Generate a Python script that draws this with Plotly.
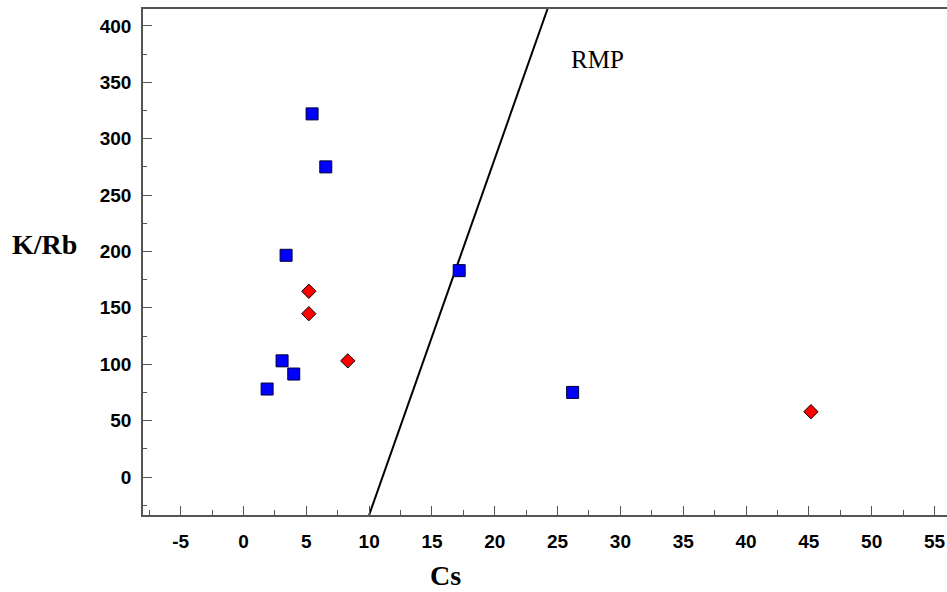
import plotly.graph_objects as go

# Data
sq_cs = [5.46, 6.55, 3.39, 17.17, 3.07, 4.0, 1.88, 26.2]
sq_krb = [322, 275, 196.6, 183, 103, 91.3, 78, 75]

dm_cs = [5.2, 5.2, 8.3, 45.17]
dm_krb = [164.7, 144.8, 103, 57.9]

rmp_cs = [10.0, 24.2]
rmp_krb = [-33.7, 415]

x_ticks = [-5, 0, 5, 10, 15, 20, 25, 30, 35, 40, 45, 50, 55]
y_ticks = [0, 50, 100, 150, 200, 250, 300, 350, 400]

fig = go.Figure()
fig.add_trace(go.Scatter(x=rmp_cs, y=rmp_krb, mode="lines",
                         line=dict(color="black", width=2), showlegend=False))
fig.add_trace(go.Scatter(x=sq_cs, y=sq_krb, mode="markers",
                         marker=dict(symbol="square", size=12, color="#0000FF",
                                     line=dict(color="#000033", width=1)),
                         showlegend=False))
fig.add_trace(go.Scatter(x=dm_cs, y=dm_krb, mode="markers",
                         marker=dict(symbol="diamond", size=11, color="#FF0000",
                                     line=dict(color="black", width=1)),
                         showlegend=False))

axfont = dict(family="Arial, Liberation Sans, sans-serif", size=19, color="black", weight="bold")

fig.update_xaxes(range=[-8, 56], tickvals=x_ticks, ticktext=[str(v) for v in x_ticks],
                 ticks="inside", ticklen=9, tickcolor="#555", tickwidth=1,
                 minor=dict(dtick=2.5, ticks="inside", ticklen=5, tickcolor="#555"),
                 showline=True, linecolor="#555", linewidth=1.5, mirror=True,
                 showgrid=False, zeroline=False, tickfont=axfont,
                 ticklabelstandoff=8)
fig.update_yaxes(range=[-33.7, 415], tickvals=y_ticks, ticktext=[str(v) for v in y_ticks],
                 ticks="inside", ticklen=9, tickcolor="#555", tickwidth=1,
                 minor=dict(dtick=25, ticks="inside", ticklen=4, tickcolor="#555"),
                 showline=True, linecolor="#555", linewidth=1.5,
                 showgrid=False, zeroline=False, tickfont=axfont,
                 ticklabelstandoff=6)

tfont = dict(family="Liberation Serif, Times New Roman, serif", size=28, color="black")
fig.add_annotation(text="<b>K/Rb</b>", xref="paper", yref="paper",
                   x=-0.123, y=0.534, showarrow=False, font=tfont, xanchor="center", yanchor="middle")
fig.add_annotation(text="<b>Cs</b>", xref="paper", yref="paper",
                   x=0.376, y=-0.119, showarrow=False, font=tfont, xanchor="center", yanchor="middle")
fig.add_annotation(text="RMP", x=28.2, y=370, showarrow=False,
                   font=dict(family="Liberation Serif, Times New Roman, serif", size=25, color="black"))

fig.update_layout(width=947, height=592, margin=dict(l=143, r=0, t=9, b=77),
                  plot_bgcolor="white", paper_bgcolor="white")

fig.write_html("out.html", config={"displayModeBar": False},
               post_script="document.body.style.margin='0';document.body.style.overflow='hidden';")
